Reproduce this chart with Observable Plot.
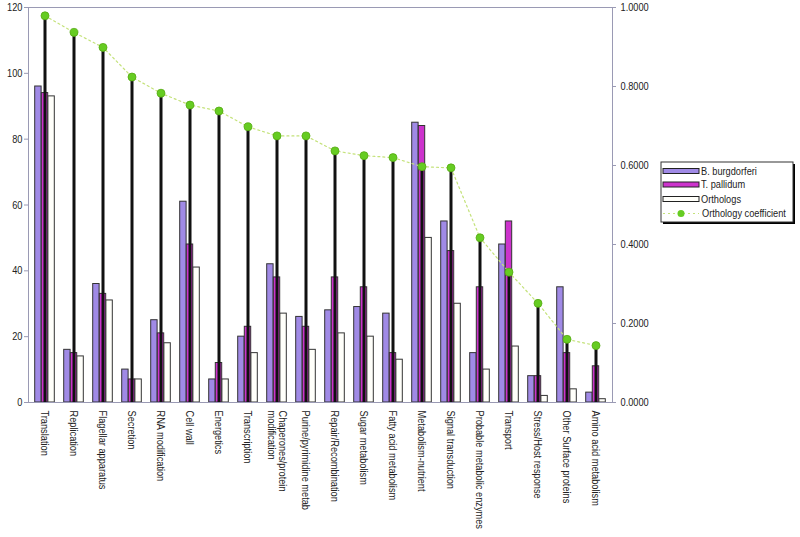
<!DOCTYPE html>
<html>
<head>
<meta charset="utf-8">
<script src="https://cdn.jsdelivr.net/npm/d3@7"></script>
<script src="https://cdn.jsdelivr.net/npm/@observablehq/plot@0.6"></script>
<style>
  html, body { margin: 0; padding: 0; background: #fff; }
  #wrap { position: relative; width: 800px; height: 537px; }
  #legend { position: absolute; left: 0; top: 0; }
</style>
</head>
<body>
<div id="wrap"></div>
<script>
const categories = [
  "Translation", "Replication", "Flagellar apparatus", "Secretion", "RNA modification",
  "Cell wall", "Energetics", "Transcription", "Chaperones/protein\nmodification",
  "Purine/pyrimidine metab", "Repair/Recombination", "Sugar metabolism",
  "Fatty acid metabolism", "Metabolism-nutrient", "Signal transduction",
  "Probable metabolic enzymes", "Transport", "Stress/Host response",
  "Other Surface proteins", "Amino acid metabolism"
];
const bBurgdorferi = [96, 16, 36, 10, 25, 61, 7, 20, 42, 26, 28, 29, 27, 85, 55, 15, 48, 8, 35, 3];
const tPallidum    = [94, 15, 33, 7, 21, 48, 12, 23, 38, 23, 38, 35, 15, 84, 46, 35, 55, 8, 15, 11];
const orthologs    = [93, 14, 31, 7, 18, 41, 7, 15, 27, 16, 21, 20, 13, 50, 30, 10, 17, 2, 4, 1];
const orthologyCoef = [0.979, 0.937, 0.899, 0.824, 0.783, 0.753, 0.738, 0.698, 0.675, 0.675,
  0.637, 0.625, 0.620, 0.597, 0.594, 0.417, 0.330, 0.251, 0.160, 0.144];
const leftTicks = [0, 20, 40, 60, 80, 100, 120];
const rightTicks = [0, 0.2, 0.4, 0.6, 0.8, 1.0];
const seriesNames = ["B. burgdorferi", "T. pallidum", "Orthologs", "Orthology coefficient"];

const LEFT_MAX = 120;
const colB = "#a08ae6", colT = "#cc33cc", colO = "#fffffa", colDot = "#66cc22";
const font = "'Liberation Sans', Arial, sans-serif";
const SQUEEZE = 0.84; // reference type is condensed

const rows = categories.map((c, i) => ({
  cat: c, b: bBurgdorferi[i], t: tPallidum[i], o: orthologs[i], coef: orthologyCoef[i]
}));

const W = 800, H = 537, mL = 28, mR = 188, mT = 7, mB = 135;
const bw = (W - mL - mR) / categories.length;
const half = bw / 2, barW = 6.6;
const inset = (k) => ({ insetLeft: half + (k - 1.5) * barW, insetRight: half - (k - 0.5) * barW });

const chart = Plot.plot({
  width: W, height: H,
  marginLeft: mL, marginRight: mR, marginTop: mT, marginBottom: mB,
  style: { fontFamily: font, fontSize: "11px", background: "#fff", color: "#222" },
  x: { domain: categories, padding: 0, label: null },
  y: { domain: [0, LEFT_MAX], label: null },
  marks: [
    Plot.barY(rows, { x: "cat", y: "b", fill: colB, stroke: "#333", strokeWidth: 1, ...inset(0) }),
    Plot.barY(rows, { x: "cat", y: "t", fill: colT, stroke: "#333", strokeWidth: 1, ...inset(1) }),
    Plot.barY(rows, { x: "cat", y: "o", fill: colO, stroke: "#333", strokeWidth: 1, ...inset(2) }),
    Plot.ruleX(rows, { x: "cat", y1: 0, y2: d => d.coef * LEFT_MAX, stroke: "#111", strokeWidth: 3 }),
    Plot.lineY(rows, { x: "cat", y: d => d.coef * LEFT_MAX, stroke: "#c4e27a", strokeWidth: 1.2, strokeDasharray: "2,3" }),
    Plot.dot(rows, { x: "cat", y: d => d.coef * LEFT_MAX, r: 4, fill: colDot, stroke: "#55aa11", strokeWidth: 0.8 }),
    Plot.frame({ stroke: "#9a9ab4", strokeWidth: 1 }),
    Plot.axisY({ anchor: "left", ticks: leftTicks, tickSize: 4, tickPadding: 2, stroke: "#9a9ab4", label: null }),
    Plot.axisY({ anchor: "right", ticks: rightTicks.map(t => t * LEFT_MAX), tickFormat: v => (v / LEFT_MAX).toFixed(4), tickSize: 3, tickPadding: 5, stroke: "#9a9ab4", label: null }),
    Plot.axisX({ tickRotate: 90, tickSize: 0, tickPadding: 8, label: null, textOverflow: "clip", lineWidth: 40 })
  ]
});
document.getElementById("wrap").appendChild(chart);

// Legend
const lg = d3.select("#wrap").append("svg")
  .attr("id", "legend").attr("width", W).attr("height", H)
  .style("pointer-events", "none")
  .style("font-family", font).style("font-size", "11px");
const bx = 661, by = 162, bwid = 132, bh = 60;
lg.append("rect").attr("x", bx + 2).attr("y", by + 2).attr("width", bwid).attr("height", bh).attr("fill", "#000");
lg.append("rect").attr("x", bx).attr("y", by).attr("width", bwid).attr("height", bh).attr("fill", "#fff").attr("stroke", "#333");
const rowY = [171, 184.5, 199, 213.5];
const fills = [colB, colT, colO];
seriesNames.forEach((name, i) => {
  const y = rowY[i];
  if (i < 3) {
    lg.append("rect").attr("x", 663).attr("y", y - 2.5).attr("width", 36).attr("height", 5)
      .attr("fill", fills[i]).attr("stroke", "#222").attr("stroke-width", 1);
  } else {
    lg.append("line").attr("x1", 663).attr("x2", 699).attr("y1", y).attr("y2", y)
      .attr("stroke", "#c4e27a").attr("stroke-dasharray", "2,3");
    lg.append("circle").attr("cx", 681).attr("cy", y).attr("r", 3.5).attr("fill", colDot);
  }
  lg.append("text").attr("transform", `translate(${i < 3 ? 701 : 702},${y})`).attr("dy", "0.35em")
    .attr("fill", "#222").text(name);
});

// Condense all text to match the narrow type of the reference (scale along the text direction)
document.querySelectorAll("#wrap svg text").forEach(t => {
  let tr = t.getAttribute("transform");
  if (!tr) {
    const x = +(t.getAttribute("x") || 0), y = +(t.getAttribute("y") || 0);
    t.removeAttribute("x"); t.removeAttribute("y");
    tr = `translate(${x},${y})`;
  }
  t.setAttribute("transform", `${tr} scale(${SQUEEZE},1)`);
});
</script>
</body>
</html>
